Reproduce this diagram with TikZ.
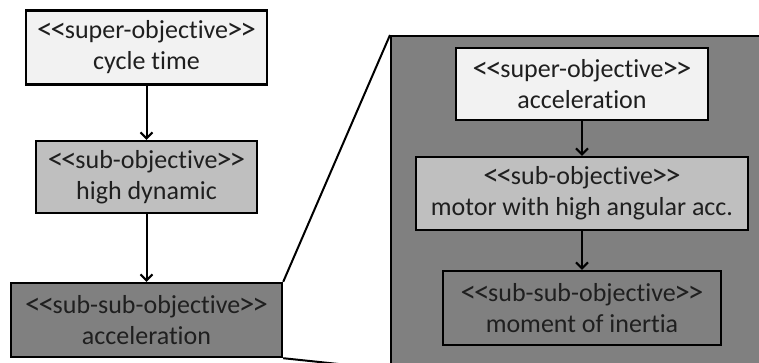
\documentclass[tikz,border=0pt]{standalone}
\usepackage{graphicx}
\usepackage{fontspec}
\newfontfamily\objfont{Carlito}[Ligatures={NoCommon}]
\usetikzlibrary{arrows.meta}
\definecolor{superfill}{HTML}{F2F2F2}
\definecolor{subfill}{HTML}{BFBFBF}
\definecolor{subsubfill}{HTML}{808080}
\definecolor{panelfill}{HTML}{808080}
% slightly larger, tightly set brackets for the stereotype labels
\newcommand{\stlt}{\raisebox{-0.03em}{\scalebox{1.2}[1.2]{<}}}
\newcommand{\stgt}{\raisebox{-0.03em}{\scalebox{1.2}[1.2]{>}}}
\newcommand{\stereo}[1]{\stlt\kern-0.08em\stlt\kern-0.05em#1\kern-0.05em\stgt\kern-0.08em\stgt}
\begin{document}
\begin{tikzpicture}[x=1pt,y=-1pt,
  objbox/.style={draw=black, line width=2.4pt, align=center, inner sep=0pt,
    font=\objfont\fontsize{26}{31}\selectfont, text=black!88},
  superbox/.style={objbox, fill=superfill},
  subbox/.style={objbox, fill=subfill},
  subsubbox/.style={objbox, fill=subsubfill},
  flow/.style={line width=2pt, -{Straight Barb[length=6pt,width=12pt,line width=2pt]}},
  zoomline/.style={line width=2pt}
]
\useasboundingbox (0,0) rectangle (759,362);
\clip (0,0) rectangle (759,362);

% magnified panel, running off the right and bottom edges
\node[draw=black, line width=2.4pt, fill=panelfill, inner sep=0pt,
      minimum width=420pt, minimum height=332pt, anchor=north west] (panel) at (390,35) {};

% left chain
\node[superbox, minimum width=241pt, minimum height=74pt] (cycle) at (146.5,47.5)
  {\stereo{super-objective}\\cycle time};
\node[subbox, minimum width=221pt, minimum height=72pt] (dyn) at (146.5,177)
  {\stereo{sub-objective}\\high dynamic};
\node[subsubbox, minimum width=271pt, minimum height=74pt] (acc) at (146.5,320)
  {\stereo{sub-sub-objective}\\acceleration};

\draw[flow] (cycle) -- (dyn);
\draw[flow] (dyn) -- (acc);

% zoom lines from the detailed element to the panel
\draw[zoomline] (acc.north east) -- (panel.north west);
\draw[zoomline] (acc.south east) -- (panel.south west);

% right chain inside the panel
\node[superbox, minimum width=252pt, minimum height=72pt] (accsup) at (582,84)
  {\stereo{super-objective}\\acceleration};
\node[subbox, minimum width=332pt, minimum height=73pt] (motor) at (582,193.5)
  {\stereo{sub-objective}\\motor with high angular acc.};
\node[subsubbox, minimum width=278pt, minimum height=74pt] (inertia) at (582,308)
  {\stereo{sub-sub-objective}\\moment of inertia};

\draw[flow] (accsup) -- (motor);
\draw[flow] (motor) -- (inertia);
\end{tikzpicture}
\end{document}
